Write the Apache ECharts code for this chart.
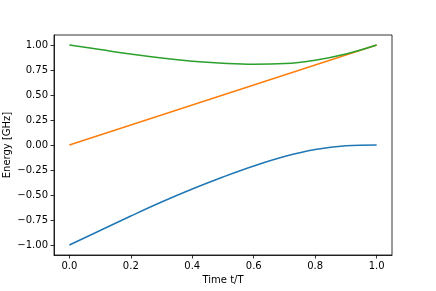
<!DOCTYPE html>
<html>
<head>
<meta charset="utf-8">
<script src="https://cdn.jsdelivr.net/npm/echarts@6/dist/echarts.min.js"></script>
<style>
html,body{margin:0;padding:0;background:#fff;}
#chart{width:436px;height:291px;}
</style>
</head>
<body>
<div id="chart"></div>
<script>
var tValues = [0.0, 0.1, 0.2, 0.3, 0.4, 0.5, 0.6, 0.7, 0.8, 0.9, 1.0];
var blueValues = [-1.00, -0.855, -0.71, -0.57, -0.44, -0.32, -0.21, -0.115, -0.045, -0.008, 0.0];
var orangeValues = [0.0, 0.1, 0.2, 0.3, 0.4, 0.5, 0.6, 0.7, 0.8, 0.9, 1.0];
var greenValues = [1.00, 0.954, 0.909, 0.869, 0.838, 0.818, 0.808, 0.814, 0.848, 0.91, 1.00];
var xTicks = [0.0, 0.2, 0.4, 0.6, 0.8, 1.0];
var yTicks = [-1.0, -0.75, -0.5, -0.25, 0.0, 0.25, 0.5, 0.75, 1.0];

function pairs(ys) { return tValues.map(function (t, i) { return [t, ys[i]]; }); }
function fmt(d) { return function (v) { return v.toFixed(d).replace('-', '\u2212'); }; }

var font = 'DejaVu Sans';
var chart = echarts.init(document.getElementById('chart'), null, {renderer: 'canvas'});
chart.setOption({
  animation: false,
  backgroundColor: '#fff',
  grid: {left: 54, right: 44, top: 35, bottom: 36, show: true, borderColor: '#000', borderWidth: 0.8, containLabel: false, outerBoundsMode: 'none'},
  xAxis: {
    type: 'value', min: -0.05, max: 1.05,
    name: 'Time t/T', nameLocation: 'middle', nameGap: 20, nameMoveOverlap: false,
    nameTextStyle: {fontFamily: font, fontSize: 10, color: '#000'},
    axisLine: {show: true, onZero: false, lineStyle: {color: '#000', width: 0.8}},
    axisTick: {show: true, length: 3.5, lineStyle: {color: '#000', width: 0.8}, customValues: xTicks},
    axisLabel: {fontFamily: font, fontSize: 10, color: '#000', margin: 6, formatter: fmt(1), customValues: xTicks},
    splitLine: {show: false}
  },
  yAxis: {
    type: 'value', min: -1.1, max: 1.1,
    name: 'Energy [GHz]', nameLocation: 'middle', nameGap: 42, nameRotate: 90, nameMoveOverlap: false,
    nameTextStyle: {fontFamily: font, fontSize: 10, color: '#000'},
    axisLine: {show: true, onZero: false, lineStyle: {color: '#000', width: 0.8}},
    axisTick: {show: true, length: 3.5, lineStyle: {color: '#000', width: 0.8}, customValues: yTicks},
    axisLabel: {fontFamily: font, fontSize: 10, color: '#000', margin: 6, formatter: fmt(2), customValues: yTicks},
    splitLine: {show: false}
  },
  series: [
    {type: 'line', data: pairs(blueValues), smooth: 0.4, showSymbol: false, lineStyle: {color: '#1f77b4', width: 1.5}, itemStyle: {color: '#1f77b4'}},
    {type: 'line', data: pairs(orangeValues), smooth: false, showSymbol: false, lineStyle: {color: '#ff7f0e', width: 1.5}, itemStyle: {color: '#ff7f0e'}},
    {type: 'line', data: pairs(greenValues), smooth: 0.4, showSymbol: false, lineStyle: {color: '#2ca02c', width: 1.5}, itemStyle: {color: '#2ca02c'}}
  ]
});
</script>
</body>
</html>
